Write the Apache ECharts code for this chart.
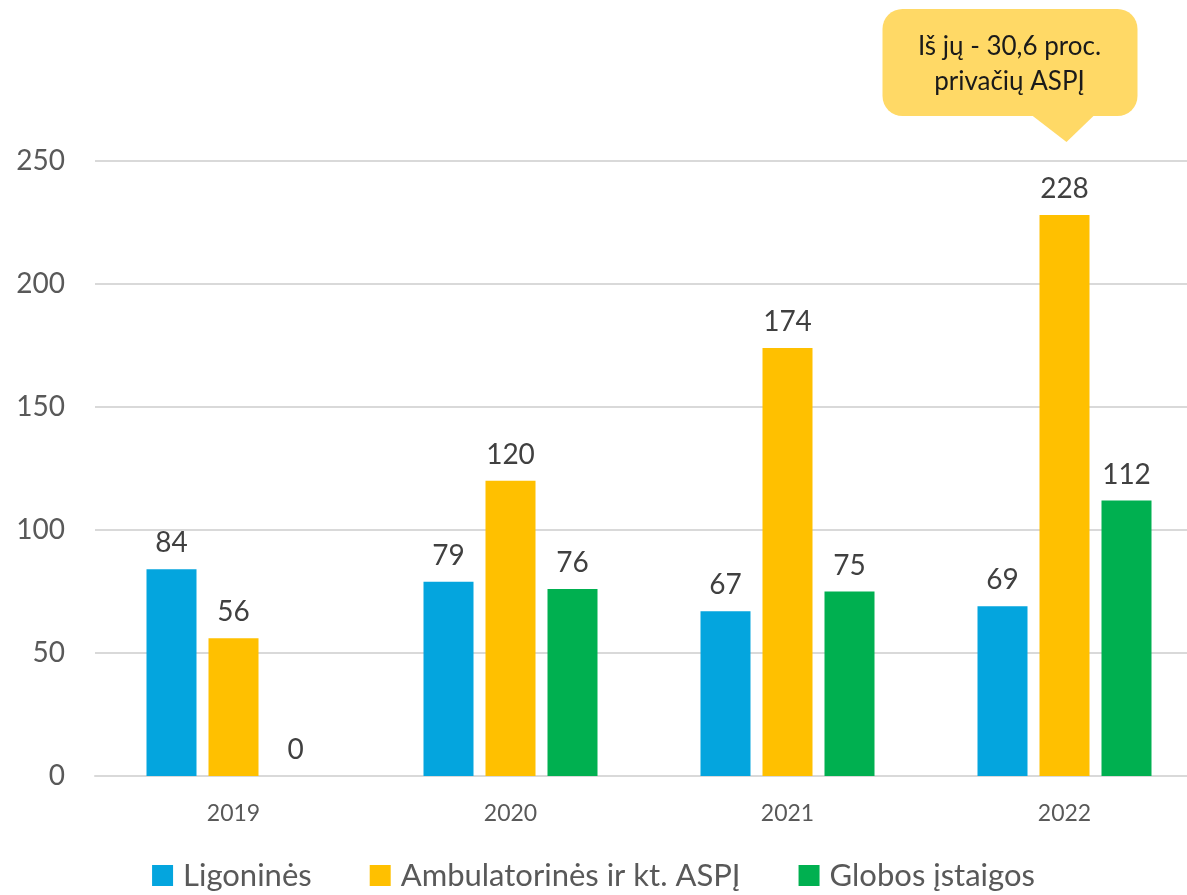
<!DOCTYPE html>
<html>
<head>
<meta charset="utf-8">
<script src="https://cdn.jsdelivr.net/npm/echarts@6/dist/echarts.min.js"></script>
<style>
  html, body { margin: 0; padding: 0; background: #fff; }
  #chart { width: 1187px; height: 895px; }
</style>
</head>
<body>
<div id="chart"></div>
<script>
const years = ["2019", "2020", "2021", "2022"];
const seriesNames = ["Ligoninės", "Ambulatorinės ir kt. ASPĮ", "Globos įstaigos"];
const hospitals = [84, 79, 67, 69];
const outpatient = [56, 120, 174, 228];
const careHomes = [0, 76, 75, 112];
const colors = ["#04A5DE", "#FFC000", "#00B050"]; // hospitals, outpatient, care homes
const calloutLines = ["Iš jų - 30,6 proc.", "privačių ASPĮ"];

const font = "Lato";

const chart = echarts.init(document.getElementById("chart"));

const barSeries = (name, data, color) => ({
    name,
    type: "bar",
    data,
    barWidth: 50,
    barGap: "24%",
    itemStyle: { color },
    label: {
        show: true,
        position: "top",
        distance: 12,
        color: "#404040",
        fontSize: 28,
        fontFamily: font
    }
});

chart.setOption({
    animation: false,
    backgroundColor: "#fff",
    grid: { left: 95, top: 161, width: 1108, height: 615, outerBoundsMode: "none", containLabel: false },
    xAxis: {
        type: "category",
        data: years,
        axisTick: { show: false },
        axisLine: { lineStyle: { color: "#D9D9D9", width: 2 } },
        axisLabel: { color: "#595959", fontSize: 23, fontFamily: font, margin: 26 }
    },
    yAxis: {
        type: "value",
        min: 0,
        max: 250,
        interval: 50,
        axisLine: { show: false },
        axisTick: { show: false },
        splitLine: { lineStyle: { color: "#D9D9D9", width: 2 } },
        axisLabel: { color: "#595959", fontSize: 28, fontFamily: font, margin: 30 }
    },
    legend: {
        top: 855,
        left: "center",
        itemWidth: 21,
        itemHeight: 21,
        itemGap: 58,
        icon: "rect",
        textStyle: { color: "#595959", fontSize: 31, fontFamily: font, padding: [0, 0, 0, 5] },
        data: seriesNames
    },
    series: [
        barSeries(seriesNames[0], hospitals, colors[0]),
        barSeries(seriesNames[1], outpatient, colors[1]),
        barSeries(seriesNames[2], careHomes, colors[2])
    ]
});

// callout above the 2022 outpatient bar
const tipX = chart.convertToPixel({ xAxisIndex: 0 }, years[3]);
const tipY = 142;
chart.setOption({
    graphic: [{
        type: "group",
        children: [
            {
                type: "rect",
                shape: { x: tipX - 182, y: 9, width: 255, height: 107, r: 20 },
                style: { fill: "#FFD966" }
            },
            {
                type: "polygon",
                shape: { points: [[tipX - 33, 115], [tipX + 30, 115], [tipX + 2, tipY]] },
                style: { fill: "#FFD966" }
            },
            {
                type: "text",
                x: tipX - 55,
                y: 64,
                style: {
                    text: calloutLines.join("\n"),
                    align: "center",
                    verticalAlign: "middle",
                    fontSize: 26,
                    lineHeight: 35,
                    fontFamily: font,
                    fill: "#1a1a1a"
                }
            }
        ]
    }]
});
</script>
</body>
</html>
